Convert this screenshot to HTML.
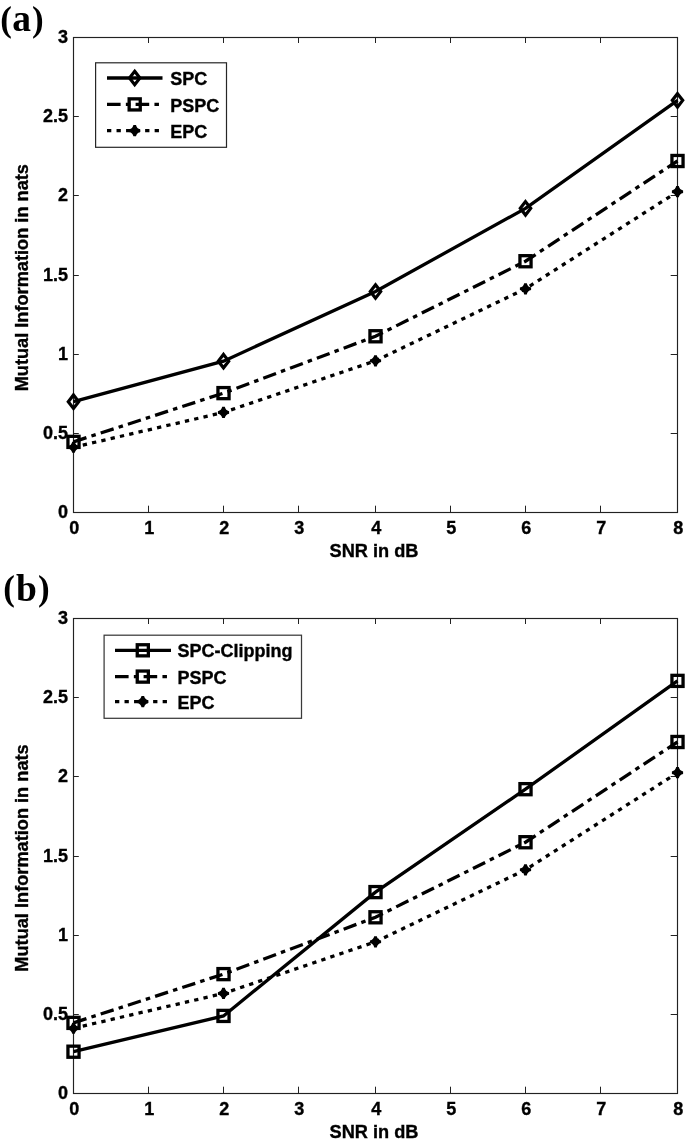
<!DOCTYPE html>
<html><head><meta charset="utf-8"><title>Mutual Information vs SNR</title>
<style>
html,body{margin:0;padding:0;background:#fff;width:685px;height:1142px;overflow:hidden}
svg{display:block;will-change:transform}
svg text{font-family:"Liberation Sans", sans-serif;font-size:18px;font-weight:bold;fill:#000;stroke:#000;stroke-width:0.35px}
</style></head><body>
<svg width="685" height="1142" viewBox="0 0 685 1142">
<rect width="685" height="1142" fill="#fff"/>
<rect x="73.5" y="37.5" width="604" height="475" fill="none" stroke="#222" stroke-width="1.15"/>
<text x="74.3" y="534" text-anchor="middle">0</text>
<path d="M148.5 512.5V505.7M148.5 37.5V43" stroke="#222" stroke-width="1"/>
<text x="149.3" y="534" text-anchor="middle">1</text>
<path d="M223.5 512.5V505.7M223.5 37.5V43" stroke="#222" stroke-width="1"/>
<text x="224.3" y="534" text-anchor="middle">2</text>
<path d="M298.5 512.5V505.7M298.5 37.5V43" stroke="#222" stroke-width="1"/>
<text x="299.3" y="534" text-anchor="middle">3</text>
<path d="M375.5 512.5V505.7M375.5 37.5V43" stroke="#222" stroke-width="1"/>
<text x="376.3" y="534" text-anchor="middle">4</text>
<path d="M450.5 512.5V505.7M450.5 37.5V43" stroke="#222" stroke-width="1"/>
<text x="451.3" y="534" text-anchor="middle">5</text>
<path d="M525.5 512.5V505.7M525.5 37.5V43" stroke="#222" stroke-width="1"/>
<text x="526.3" y="534" text-anchor="middle">6</text>
<path d="M600.5 512.5V505.7M600.5 37.5V43" stroke="#222" stroke-width="1"/>
<text x="601.3" y="534" text-anchor="middle">7</text>
<text x="678.3" y="534" text-anchor="middle">8</text>
<text x="68" y="518.2" text-anchor="end">0</text>
<path d="M73.5 433.5H78.8M677.5 433.5H670.7" stroke="#222" stroke-width="1"/>
<text x="68" y="439.2" text-anchor="end">0.5</text>
<path d="M73.5 354.5H78.8M677.5 354.5H670.7" stroke="#222" stroke-width="1"/>
<text x="68" y="360.2" text-anchor="end">1</text>
<path d="M73.5 275.5H78.8M677.5 275.5H670.7" stroke="#222" stroke-width="1"/>
<text x="68" y="281.2" text-anchor="end">1.5</text>
<path d="M73.5 195.5H78.8M677.5 195.5H670.7" stroke="#222" stroke-width="1"/>
<text x="68" y="201.2" text-anchor="end">2</text>
<path d="M73.5 116.5H78.8M677.5 116.5H670.7" stroke="#222" stroke-width="1"/>
<text x="68" y="122.2" text-anchor="end">2.5</text>
<text x="68" y="43.2" text-anchor="end">3</text>
<text x="374" y="556.6" text-anchor="middle" style="font-size:18.2px">SNR in dB</text>
<text transform="translate(27.9 277.7) rotate(-90)" text-anchor="middle" style="font-size:18.2px">Mutual Information in nats</text>
<text x="0.3" y="30.5" style="font-family:'Liberation Serif',serif;font-weight:bold;stroke:none;font-size:35px">(</text>
<text x="12.3" y="31.3" style="font-family:'Liberation Serif',serif;font-weight:bold;stroke:none;font-size:37.5px">a</text>
<text x="32" y="30.5" style="font-family:'Liberation Serif',serif;font-weight:bold;stroke:none;font-size:35px">)</text>
<polyline points="73.5,401.67 223.5,361.13 375.5,291.47 525.5,208.34 677.5,100.36" fill="none" stroke="#000" stroke-width="3.3"/>
<polyline points="73.5,441.88 223.5,393.12 375.5,336.27 525.5,261.23 677.5,161" fill="none" stroke="#000" stroke-width="3.3" stroke-dasharray="13.6 5.25 4.5 5.25"/>
<polyline points="73.5,447.27 223.5,412.43 375.5,360.82 525.5,288.77 677.5,191.72" fill="none" stroke="#000" stroke-width="3.3" stroke-dasharray="4.3 5.23"/>
<path d="M73.5 394.97L78.7 401.67L73.5 408.37L68.3 401.67Z" fill="none" stroke="#000" stroke-width="3.2" stroke-linejoin="miter"/>
<path d="M223.5 354.43L228.7 361.13L223.5 367.83L218.3 361.13Z" fill="none" stroke="#000" stroke-width="3.2" stroke-linejoin="miter"/>
<path d="M375.5 284.77L380.7 291.47L375.5 298.17L370.3 291.47Z" fill="none" stroke="#000" stroke-width="3.2" stroke-linejoin="miter"/>
<path d="M525.5 201.64L530.7 208.34L525.5 215.04L520.3 208.34Z" fill="none" stroke="#000" stroke-width="3.2" stroke-linejoin="miter"/>
<path d="M677.5 93.66L682.7 100.36L677.5 107.06L672.3 100.36Z" fill="none" stroke="#000" stroke-width="3.2" stroke-linejoin="miter"/>
<rect x="67.95" y="436.33" width="11.1" height="11.1" fill="none" stroke="#000" stroke-width="3.3"/>
<rect x="217.95" y="387.57" width="11.1" height="11.1" fill="none" stroke="#000" stroke-width="3.3"/>
<rect x="369.95" y="330.72" width="11.1" height="11.1" fill="none" stroke="#000" stroke-width="3.3"/>
<rect x="519.95" y="255.68" width="11.1" height="11.1" fill="none" stroke="#000" stroke-width="3.3"/>
<rect x="671.95" y="155.45" width="11.1" height="11.1" fill="none" stroke="#000" stroke-width="3.3"/>
<path d="M72.2 441.67L74.8 441.67Q75.5 445.27 79.1 445.97L79.1 448.57Q75.5 449.27 74.8 452.87L72.2 452.87Q71.5 449.27 67.9 448.57L67.9 445.97Q71.5 445.27 72.2 441.67Z" fill="#000"/>
<path d="M222.2 406.83L224.8 406.83Q225.5 410.43 229.1 411.13L229.1 413.73Q225.5 414.43 224.8 418.03L222.2 418.03Q221.5 414.43 217.9 413.73L217.9 411.13Q221.5 410.43 222.2 406.83Z" fill="#000"/>
<path d="M374.2 355.22L376.8 355.22Q377.5 358.82 381.1 359.52L381.1 362.12Q377.5 362.82 376.8 366.42L374.2 366.42Q373.5 362.82 369.9 362.12L369.9 359.52Q373.5 358.82 374.2 355.22Z" fill="#000"/>
<path d="M524.2 283.17L526.8 283.17Q527.5 286.77 531.1 287.47L531.1 290.07Q527.5 290.77 526.8 294.38L524.2 294.38Q523.5 290.77 519.9 290.07L519.9 287.47Q523.5 286.77 524.2 283.17Z" fill="#000"/>
<path d="M676.2 186.12L678.8 186.12Q679.5 189.72 683.1 190.42L683.1 193.02Q679.5 193.72 678.8 197.32L676.2 197.32Q675.5 193.72 671.9 193.02L671.9 190.42Q675.5 189.72 676.2 186.12Z" fill="#000"/>
<rect x="95.6" y="62.8" width="130.9" height="84.5" fill="#fff" stroke="#262626" stroke-width="1.2"/>
<polyline points="107,78 162.5,78" fill="none" stroke="#000" stroke-width="3.3"/>
<path d="M134.7 71.3L139.9 78L134.7 84.7L129.5 78Z" fill="none" stroke="#000" stroke-width="3.2" stroke-linejoin="miter"/>
<polyline points="107,104.4 162.5,104.4" fill="none" stroke="#000" stroke-width="3.3" stroke-dasharray="13.6 5.25 4.5 5.25"/>
<rect x="129.15" y="98.85" width="11.1" height="11.1" fill="none" stroke="#000" stroke-width="3.3"/>
<polyline points="107,130.7 162.5,130.7" fill="none" stroke="#000" stroke-width="3.3" stroke-dasharray="4.3 5.23"/>
<path d="M133.4 125.1L136 125.1Q136.7 128.7 140.3 129.4L140.3 132Q136.7 132.7 136 136.3L133.4 136.3Q132.7 132.7 129.1 132L129.1 129.4Q132.7 128.7 133.4 125.1Z" fill="#000"/>
<text x="170.2" y="85.1">SPC</text>
<text x="170.2" y="111.6">PSPC</text>
<text x="170.2" y="138.2">EPC</text>
<rect x="73.5" y="618.5" width="604" height="475" fill="none" stroke="#222" stroke-width="1.15"/>
<text x="74.3" y="1114.6" text-anchor="middle">0</text>
<path d="M148.5 1093.5V1086.7M148.5 618.5V624" stroke="#222" stroke-width="1"/>
<text x="149.3" y="1114.6" text-anchor="middle">1</text>
<path d="M223.5 1093.5V1086.7M223.5 618.5V624" stroke="#222" stroke-width="1"/>
<text x="224.3" y="1114.6" text-anchor="middle">2</text>
<path d="M298.5 1093.5V1086.7M298.5 618.5V624" stroke="#222" stroke-width="1"/>
<text x="299.3" y="1114.6" text-anchor="middle">3</text>
<path d="M375.5 1093.5V1086.7M375.5 618.5V624" stroke="#222" stroke-width="1"/>
<text x="376.3" y="1114.6" text-anchor="middle">4</text>
<path d="M450.5 1093.5V1086.7M450.5 618.5V624" stroke="#222" stroke-width="1"/>
<text x="451.3" y="1114.6" text-anchor="middle">5</text>
<path d="M525.5 1093.5V1086.7M525.5 618.5V624" stroke="#222" stroke-width="1"/>
<text x="526.3" y="1114.6" text-anchor="middle">6</text>
<path d="M600.5 1093.5V1086.7M600.5 618.5V624" stroke="#222" stroke-width="1"/>
<text x="601.3" y="1114.6" text-anchor="middle">7</text>
<text x="678.3" y="1114.6" text-anchor="middle">8</text>
<text x="68" y="1099.2" text-anchor="end">0</text>
<path d="M73.5 1014.5H78.8M677.5 1014.5H670.7" stroke="#222" stroke-width="1"/>
<text x="68" y="1020.2" text-anchor="end">0.5</text>
<path d="M73.5 935.5H78.8M677.5 935.5H670.7" stroke="#222" stroke-width="1"/>
<text x="68" y="941.2" text-anchor="end">1</text>
<path d="M73.5 856.5H78.8M677.5 856.5H670.7" stroke="#222" stroke-width="1"/>
<text x="68" y="862.2" text-anchor="end">1.5</text>
<path d="M73.5 776.5H78.8M677.5 776.5H670.7" stroke="#222" stroke-width="1"/>
<text x="68" y="782.2" text-anchor="end">2</text>
<path d="M73.5 697.5H78.8M677.5 697.5H670.7" stroke="#222" stroke-width="1"/>
<text x="68" y="703.2" text-anchor="end">2.5</text>
<text x="68" y="624.2" text-anchor="end">3</text>
<text x="374" y="1137.9" text-anchor="middle" style="font-size:18.2px">SNR in dB</text>
<text transform="translate(27.9 858) rotate(-90)" text-anchor="middle" style="font-size:18.2px">Mutual Information in nats</text>
<text x="3.3" y="599.8" style="font-family:'Liberation Serif',serif;font-weight:bold;stroke:none;font-size:35px">(</text>
<text x="15.9" y="600.6" style="font-family:'Liberation Serif',serif;font-weight:bold;stroke:none;font-size:37.5px">b</text>
<text x="38.1" y="599.8" style="font-family:'Liberation Serif',serif;font-weight:bold;stroke:none;font-size:35px">)</text>
<polyline points="73.5,1051.7 223.5,1015.92 375.5,892.1 525.5,789.18 677.5,680.88" fill="none" stroke="#000" stroke-width="3.3"/>
<polyline points="73.5,1022.88 223.5,974.12 375.5,917.27 525.5,842.23 677.5,742" fill="none" stroke="#000" stroke-width="3.3" stroke-dasharray="13.6 5.25 4.5 5.25"/>
<polyline points="73.5,1028.27 223.5,993.43 375.5,941.82 525.5,869.77 677.5,772.72" fill="none" stroke="#000" stroke-width="3.3" stroke-dasharray="4.3 5.23"/>
<rect x="67.95" y="1046.15" width="11.1" height="11.1" fill="none" stroke="#000" stroke-width="3.3"/>
<rect x="217.95" y="1010.37" width="11.1" height="11.1" fill="none" stroke="#000" stroke-width="3.3"/>
<rect x="369.95" y="886.55" width="11.1" height="11.1" fill="none" stroke="#000" stroke-width="3.3"/>
<rect x="519.95" y="783.63" width="11.1" height="11.1" fill="none" stroke="#000" stroke-width="3.3"/>
<rect x="671.95" y="675.33" width="11.1" height="11.1" fill="none" stroke="#000" stroke-width="3.3"/>
<rect x="67.95" y="1017.33" width="11.1" height="11.1" fill="none" stroke="#000" stroke-width="3.3"/>
<rect x="217.95" y="968.57" width="11.1" height="11.1" fill="none" stroke="#000" stroke-width="3.3"/>
<rect x="369.95" y="911.73" width="11.1" height="11.1" fill="none" stroke="#000" stroke-width="3.3"/>
<rect x="519.95" y="836.68" width="11.1" height="11.1" fill="none" stroke="#000" stroke-width="3.3"/>
<rect x="671.95" y="736.45" width="11.1" height="11.1" fill="none" stroke="#000" stroke-width="3.3"/>
<path d="M72.2 1022.67L74.8 1022.67Q75.5 1026.27 79.1 1026.97L79.1 1029.57Q75.5 1030.27 74.8 1033.87L72.2 1033.87Q71.5 1030.27 67.9 1029.57L67.9 1026.97Q71.5 1026.27 72.2 1022.67Z" fill="#000"/>
<path d="M222.2 987.83L224.8 987.83Q225.5 991.43 229.1 992.13L229.1 994.73Q225.5 995.43 224.8 999.03L222.2 999.03Q221.5 995.43 217.9 994.73L217.9 992.13Q221.5 991.43 222.2 987.83Z" fill="#000"/>
<path d="M374.2 936.22L376.8 936.22Q377.5 939.82 381.1 940.52L381.1 943.12Q377.5 943.82 376.8 947.42L374.2 947.42Q373.5 943.82 369.9 943.12L369.9 940.52Q373.5 939.82 374.2 936.22Z" fill="#000"/>
<path d="M524.2 864.17L526.8 864.17Q527.5 867.77 531.1 868.48L531.1 871.07Q527.5 871.77 526.8 875.38L524.2 875.38Q523.5 871.77 519.9 871.07L519.9 868.48Q523.5 867.77 524.2 864.17Z" fill="#000"/>
<path d="M676.2 767.12L678.8 767.12Q679.5 770.72 683.1 771.42L683.1 774.02Q679.5 774.72 678.8 778.32L676.2 778.32Q675.5 774.72 671.9 774.02L671.9 771.42Q675.5 770.72 676.2 767.12Z" fill="#000"/>
<rect x="104.1" y="635.2" width="197.4" height="83.1" fill="#fff" stroke="#3a3a3a" stroke-width="1.25"/>
<polyline points="115,650.3 171,650.3" fill="none" stroke="#000" stroke-width="3.3"/>
<rect x="137.25" y="644.75" width="11.1" height="11.1" fill="none" stroke="#000" stroke-width="3.3"/>
<polyline points="115,676.6 171,676.6" fill="none" stroke="#000" stroke-width="3.3" stroke-dasharray="13.6 5.25 4.5 5.25"/>
<rect x="137.25" y="671.05" width="11.1" height="11.1" fill="none" stroke="#000" stroke-width="3.3"/>
<polyline points="115,701.6 171,701.6" fill="none" stroke="#000" stroke-width="3.3" stroke-dasharray="4.3 5.23"/>
<path d="M141.5 696L144.1 696Q144.8 699.6 148.4 700.3L148.4 702.9Q144.8 703.6 144.1 707.2L141.5 707.2Q140.8 703.6 137.2 702.9L137.2 700.3Q140.8 699.6 141.5 696Z" fill="#000"/>
<text x="177.5" y="657.0">SPC-Clipping</text>
<text x="177.5" y="683.6">PSPC</text>
<text x="177.5" y="708.6">EPC</text>
</svg>
</body></html>
